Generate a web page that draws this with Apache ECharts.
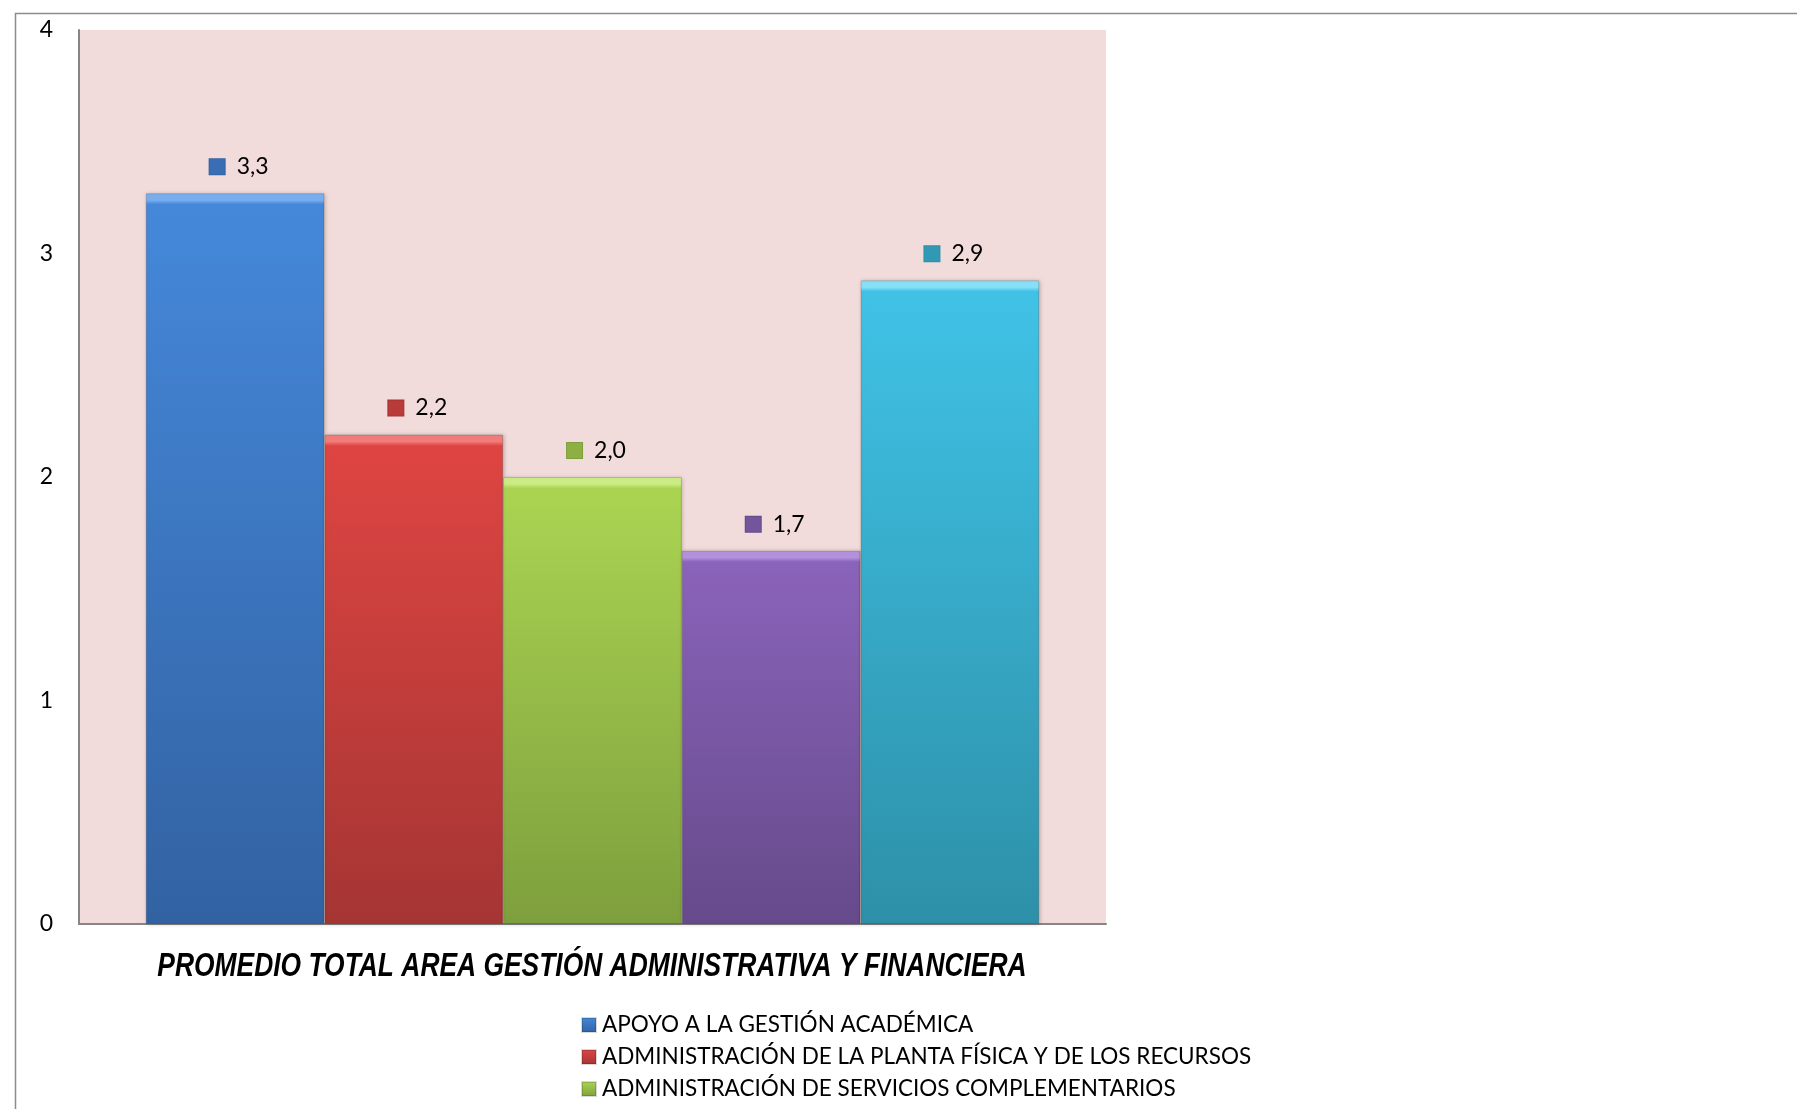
<!DOCTYPE html>
<html>
<head>
<meta charset="utf-8">
<title>Promedio total área gestión administrativa y financiera</title>
<script src="https://cdn.jsdelivr.net/npm/echarts@6/dist/echarts.min.js"></script>
<style>
  html, body { margin: 0; padding: 0; background: #ffffff; }
  #chart { width: 1797px; height: 1109px; }
</style>
</head>
<body>
<div id="chart"></div>
<script>
// Single category: the overall area average
const categories = ['PROMEDIO TOTAL AREA GESTIÓN ADMINISTRATIVA Y FINANCIERA'];

// One series per management process
const seriesNames = [
  'APOYO A LA GESTIÓN ACADÉMICA',
  'ADMINISTRACIÓN DE LA PLANTA FÍSICA Y DE LOS RECURSOS',
  'ADMINISTRACIÓN DE SERVICIOS COMPLEMENTARIOS',
  'TALENTO HUMANO',
  'APOYO FINANCIERO Y CONTABLE'
];

const apoyoGestionAcademica = [3.27];
const plantaFisicaRecursos = [2.19];
const serviciosComplementarios = [2.00];
const talentoHumano = [1.67];
const apoyoFinanciero = [2.88];

const yTicks = [0, 1, 2, 3, 4];

// [highlight, top, bottom, icon] tones for each series
const palette = [
  ['#78AEEE', '#4588DA', '#3262A2', '#3A6EB4'],
  ['#F27C7A', '#DE4542', '#A53533', '#B93B39'],
  ['#CBEC84', '#ABD452', '#7E9F3D', '#8EB043'],
  ['#B391DC', '#8A63BA', '#664A8B', '#73559C'],
  ['#86E0F7', '#40C2E6', '#2D90A8', '#3299B5']
];

const seriesValues = [
  apoyoGestionAcademica,
  plantaFisicaRecursos,
  serviciosComplementarios,
  talentoHumano,
  apoyoFinanciero
];

const baseFont = 'Lato, "Noto Sans", sans-serif';
const plotHeight = 1109 - 30 - 185;
const yMax = yTicks[yTicks.length - 1];

function fmt(v) {
  return v.toFixed(1).replace('.', ',');
}

// Vertical fill with a light bevel strip along the top edge of the bar
function barFill(c, value) {
  const px = value / yMax * plotHeight;
  const band = Math.min(0.05, 7 / px);
  return new echarts.graphic.LinearGradient(0, 0, 0, 1, [
    { offset: 0, color: c[0] },
    { offset: band, color: c[0] },
    { offset: band * 1.6, color: c[1] },
    { offset: 1, color: c[2] }
  ]);
}

const chart = echarts.init(document.getElementById('chart'), null, { renderer: 'canvas' });

const series = seriesNames.map(function (name, i) {
  const c = palette[i];
  return {
    name: name,
    type: 'bar',
    data: seriesValues[i],
    barGap: '0%',
    barCategoryGap: '13%',
    itemStyle: {
      color: barFill(c, seriesValues[i][0]),
      borderColor: 'rgba(0,0,0,0.15)',
      borderWidth: 1,
      shadowColor: 'rgba(0,0,0,0.25)',
      shadowBlur: 4,
      shadowOffsetX: 1
    },
    label: {
      show: true,
      position: 'top',
      distance: 15,
      offset: [4, 0],
      formatter: function (p) {
        return '{i|}{g|}{v|' + fmt(p.value) + '}';
      },
      rich: {
        i: {
          width: 15,
          height: 15,
          backgroundColor: c[3],
          borderColor: c[2],
          borderWidth: 1
        },
        g: { width: 12 },
        v: {
          fontFamily: baseFont,
          fontSize: 23,
          color: '#000000'
        }
      }
    }
  };
});

const option = {
  backgroundColor: '#ffffff',
  animation: false,
  graphic: [
    {
      type: 'rect',
      left: 13,
      top: 11,
      shape: { width: 2000, height: 2000 },
      style: { fill: 'none', stroke: '#8C8C8C', lineWidth: 1.5 },
      silent: true,
      z: -1
    },
    {
      // category caption, condensed bold italic
      type: 'text',
      x: 592,
      y: 967,
      scaleX: 0.80,
      style: {
        text: categories[0],
        fill: '#000000',
        font: 'italic bold 33px "Liberation Sans", Arial, sans-serif',
        align: 'center',
        verticalAlign: 'middle'
      },
      silent: true
    }
  ],
  grid: {
    left: 79,
    right: 691,
    top: 30,
    bottom: 185,
    show: true,
    backgroundColor: '#F2DCDB',
    borderWidth: 0
  },
  legend: {
    orient: 'vertical',
    left: 576,
    top: 1008,
    height: 400,
    itemWidth: 14,
    itemHeight: 14,
    itemGap: 8,
    icon: 'rect',
    textStyle: {
      fontFamily: baseFont,
      fontSize: 22.5,
      lineHeight: 24,
      color: '#000000',
      padding: [0, 0, 0, 1]
    },
    data: seriesNames
  },
  xAxis: {
    type: 'category',
    data: categories,
    axisLine: { show: true, lineStyle: { color: '#868686', width: 2 } },
    axisTick: { show: false },
    axisLabel: { show: false }
  },
  yAxis: {
    type: 'value',
    min: yTicks[0],
    max: yMax,
    interval: 1,
    axisLine: { show: true, lineStyle: { color: '#868686', width: 2 } },
    axisTick: { show: false },
    splitLine: { show: false },
    axisLabel: {
      margin: 26,
      fontFamily: baseFont,
      fontSize: 23,
      color: '#000000'
    }
  },
  series: series
};

chart.setOption(option);
</script>
</body>
</html>
